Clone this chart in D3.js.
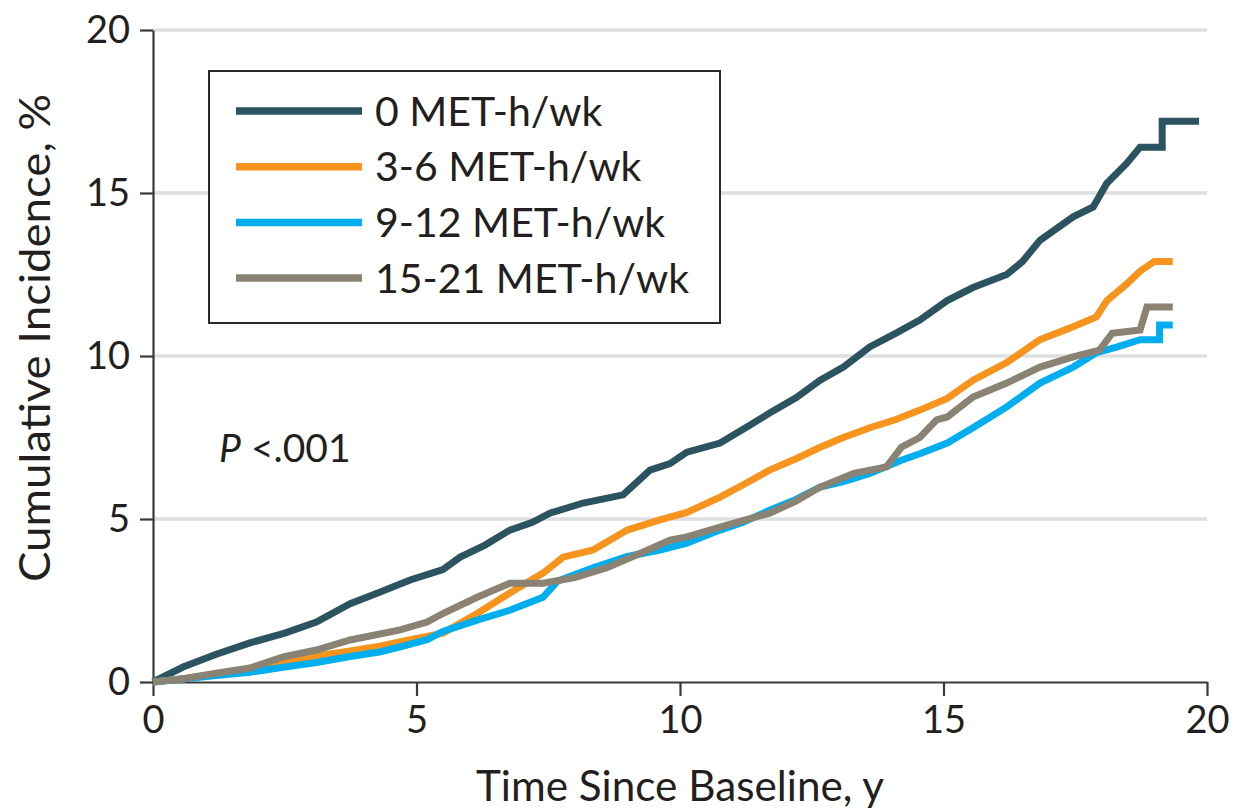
<!DOCTYPE html>
<html>
<head>
<meta charset="utf-8">
<script src="https://cdn.jsdelivr.net/npm/d3@7"></script>
<style>
  body { margin: 0; background: #fff; }
  text { font-family: Lato, "Open Sans", sans-serif; fill: #231f20; }
</style>
</head>
<body>
<div id="chart"></div>
<script>
// series names (legend order)
var seriesNames = ["0 MET-h/wk", "3-6 MET-h/wk", "9-12 MET-h/wk", "15-21 MET-h/wk"];

// 0 MET-h/wk
var t0 = [0, 0.57, 1.2, 1.84, 2.5, 3.1, 3.74, 4.3, 4.88, 5.5, 5.83, 6.3, 6.77, 7.2, 7.53, 8.16, 8.92, 9.43, 9.81, 10.13, 10.76, 11.3, 11.7, 12.2, 12.66, 13.1, 13.6, 14.1, 14.55, 15.07, 15.56, 16.2, 16.5, 16.83, 17.46, 17.84, 18.1, 18.47, 18.73, 19.15, 19.15, 19.85];
var v0 = [0, 0.46, 0.85, 1.2, 1.5, 1.84, 2.4, 2.75, 3.13, 3.45, 3.83, 4.2, 4.66, 4.9, 5.18, 5.49, 5.74, 6.5, 6.7, 7.05, 7.33, 7.85, 8.25, 8.72, 9.26, 9.66, 10.28, 10.7, 11.1, 11.7, 12.1, 12.5, 12.9, 13.55, 14.27, 14.57, 15.3, 15.9, 16.4, 16.4, 17.2, 17.2];

// 3-6 MET-h/wk
var t1 = [0, 0.6, 1.2, 1.84, 2.47, 3.1, 3.74, 4.3, 4.88, 5.5, 6.15, 6.77, 7.4, 7.78, 8.35, 9.0, 9.62, 10.13, 10.76, 11.2, 11.7, 12.2, 12.66, 13.1, 13.6, 14.1, 14.55, 15.07, 15.56, 16.2, 16.83, 17.46, 17.9, 18.1, 18.47, 18.73, 19.0, 19.35];
var v1 = [0, 0.1, 0.25, 0.4, 0.6, 0.8, 0.95, 1.1, 1.3, 1.5, 2.1, 2.73, 3.34, 3.83, 4.05, 4.66, 4.97, 5.2, 5.67, 6.05, 6.5, 6.85, 7.2, 7.5, 7.8, 8.05, 8.34, 8.7, 9.26, 9.8, 10.5, 10.9, 11.2, 11.7, 12.2, 12.6, 12.9, 12.9];

// 9-12 MET-h/wk
var t2 = [0, 0.6, 1.2, 1.84, 2.47, 3.1, 3.74, 4.3, 4.69, 5.2, 5.5, 6.15, 6.77, 7.4, 7.68, 8.35, 9.0, 9.62, 10.13, 10.76, 11.2, 11.7, 12.2, 12.66, 13.1, 13.6, 14.2, 14.55, 15.07, 15.56, 16.2, 16.83, 17.46, 17.9, 18.3, 18.73, 19.1, 19.1, 19.35];
var v2 = [0, 0.1, 0.2, 0.3, 0.45, 0.6, 0.78, 0.92, 1.08, 1.3, 1.55, 1.9, 2.2, 2.6, 3.1, 3.5, 3.85, 4.05, 4.26, 4.66, 4.9, 5.27, 5.6, 5.98, 6.15, 6.4, 6.8, 7.0, 7.33, 7.8, 8.44, 9.17, 9.66, 10.1, 10.28, 10.5, 10.5, 10.95, 10.95];

// 15-21 MET-h/wk
var t3 = [0, 0.57, 1.2, 1.84, 2.47, 3.1, 3.74, 4.69, 5.2, 5.5, 6.15, 6.77, 7.4, 8.0, 8.6, 9.25, 9.81, 10.13, 10.76, 11.7, 12.2, 12.66, 13.3, 13.92, 14.2, 14.55, 14.87, 15.07, 15.56, 16.2, 16.83, 17.46, 17.96, 18.2, 18.73, 18.86, 19.35];
var v3 = [0, 0.1, 0.27, 0.43, 0.77, 0.98, 1.29, 1.6, 1.84, 2.1, 2.6, 3.03, 3.03, 3.2, 3.5, 3.95, 4.35, 4.45, 4.75, 5.18, 5.55, 5.98, 6.4, 6.6, 7.2, 7.5, 8.04, 8.13, 8.74, 9.17, 9.66, 9.97, 10.18, 10.7, 10.8, 11.5, 11.5];

var xTicks = [0, 5, 10, 15, 20];
var yTicks = [0, 5, 10, 15, 20];

var colors = ["#2c5360", "#f7941d", "#00aeef", "#8a8373"];

var width = 1233;
var height = 810;
var padding = {top: 30, right: 26, left: 153, bottom: 128};

var svg = d3.select("#chart").append("svg").attr("width", width).attr("height", height);

var x = d3.scaleLinear().domain([0, 20]).range([padding.left, width - padding.right]);
var y = d3.scaleLinear().domain([0, 20]).range([height - padding.bottom, padding.top]);

// grid lines
svg.selectAll(".grid")
    .data(yTicks.filter(function (d) { return d > 0; }))
    .enter()
    .append("line")
    .attr("class", "grid")
    .attr("x1", x(0))
    .attr("x2", x(20))
    .attr("y1", function (d) { return y(d); })
    .attr("y2", function (d) { return y(d); })
    .attr("stroke", "#dedfe0")
    .attr("stroke-width", 3.5);

// axes
var xAxis = svg.append("g")
    .attr("transform", "translate(0," + y(0) + ")")
    .call(d3.axisBottom(x).tickValues(xTicks).tickSize(14).tickPadding(10).tickSizeOuter(0));

var yAxis = svg.append("g")
    .attr("transform", "translate(" + x(0) + ",0)")
    .call(d3.axisLeft(y).tickValues(yTicks).tickSize(13).tickPadding(10).tickSizeOuter(0));

[xAxis, yAxis].forEach(function (g) {
    g.select(".domain").attr("stroke", "#3a3a3a").attr("stroke-width", 2.2);
    g.selectAll(".tick line").attr("stroke", "#3a3a3a").attr("stroke-width", 2.2);
    g.selectAll(".tick text").attr("font-size", "38px").attr("fill", "#231f20")
        .style("font-family", "Lato, sans-serif");
});

// lines
var seriesData = [[t0, v0], [t1, v1], [t2, v2], [t3, v3]].map(function (s) {
    return s[0].map(function (t, i) { return {t: t, v: s[1][i]}; });
});

var line = d3.line()
    .x(function (d) { return x(d.t); })
    .y(function (d) { return y(d.v); });

svg.selectAll(".curve")
    .data(seriesData)
    .enter()
    .append("path")
    .attr("class", "curve")
    .attr("d", line)
    .attr("fill", "none")
    .attr("stroke", function (d, i) { return colors[i]; })
    .attr("stroke-width", 7)
    .attr("stroke-linejoin", "miter");

// legend
var legend = svg.append("g");
legend.append("rect")
    .attr("x", 209)
    .attr("y", 71)
    .attr("width", 511)
    .attr("height", 252)
    .attr("fill", "#fff")
    .attr("stroke", "#2a2a2a")
    .attr("stroke-width", 2);

var rows = legend.selectAll(".row")
    .data(seriesNames)
    .enter()
    .append("g")
    .attr("class", "row")
    .attr("transform", function (d, i) { return "translate(0," + (111 + i * 55.7) + ")"; });

rows.append("line")
    .attr("x1", 236)
    .attr("x2", 362)
    .attr("stroke", function (d, i) { return colors[i]; })
    .attr("stroke-width", 7.5);

rows.append("text")
    .attr("x", 375)
    .attr("dy", "0.36em")
    .attr("font-size", "41px")
    .text(function (d) { return d; });

// P value
var p = svg.append("text")
    .attr("x", 219)
    .attr("y", 462)
    .attr("font-size", "39px");
p.append("tspan").attr("font-style", "italic").text("P");
p.append("tspan").text(" <.001");

// axis titles
svg.append("text")
    .attr("x", (x(0) + x(20)) / 2)
    .attr("y", 801)
    .attr("text-anchor", "middle")
    .attr("font-size", "42px")
    .attr("textLength", 408)
    .attr("lengthAdjust", "spacingAndGlyphs")
    .text("Time Since Baseline, y");

svg.append("text")
    .attr("transform", "translate(50," + 338 + ") rotate(-90)")
    .attr("text-anchor", "middle")
    .attr("font-size", "42px")
    .attr("textLength", 488)
    .attr("lengthAdjust", "spacingAndGlyphs")
    .text("Cumulative Incidence, %");
</script>
</body>
</html>
